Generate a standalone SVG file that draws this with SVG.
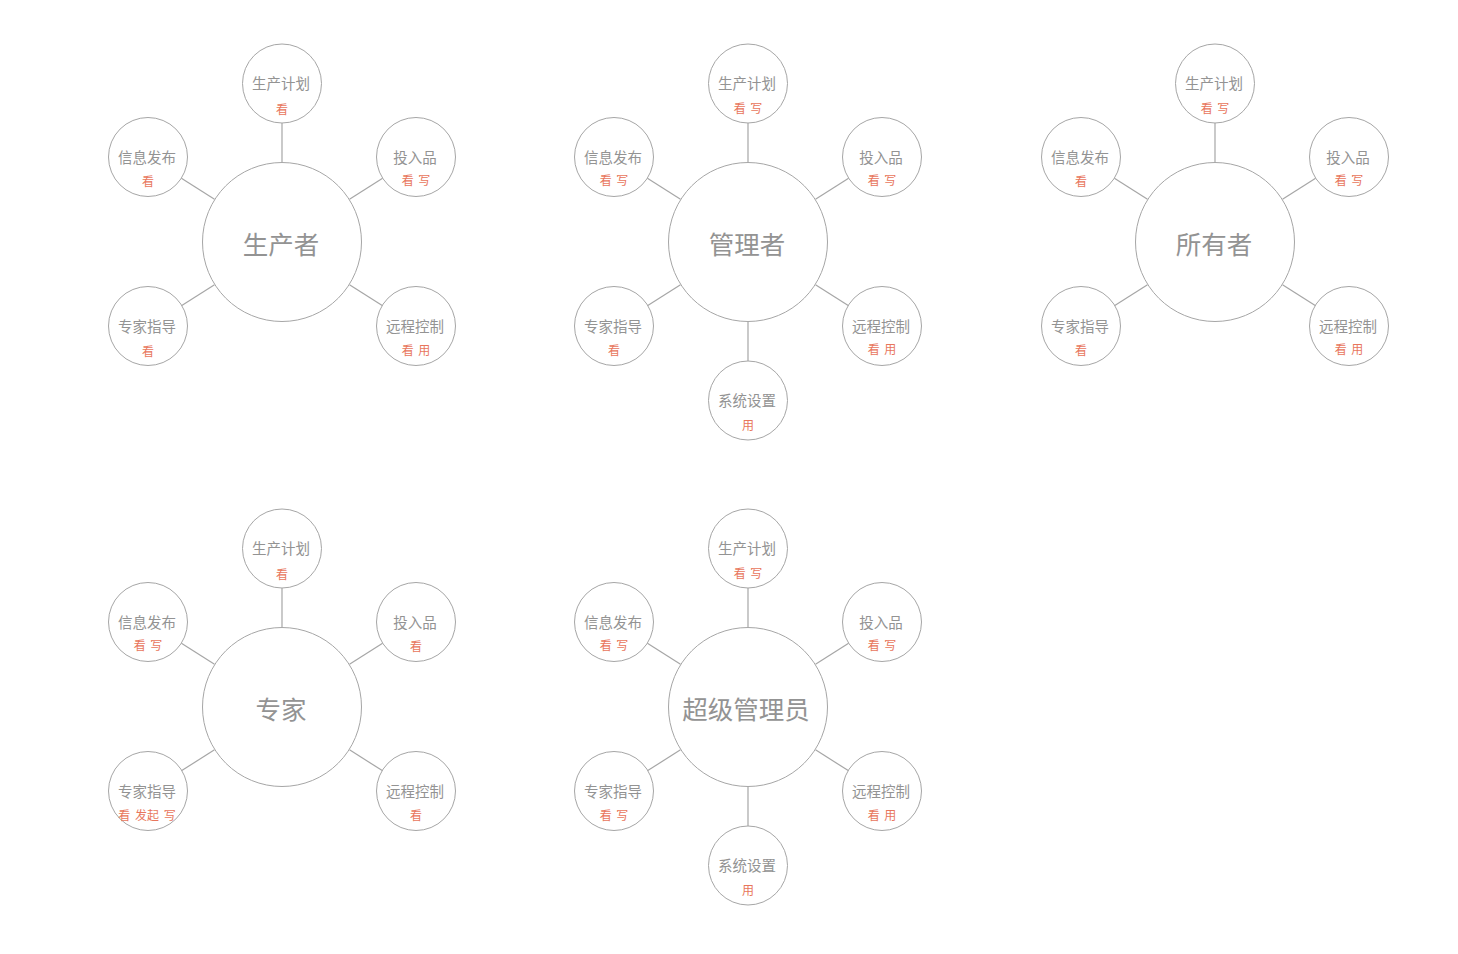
<svg xmlns="http://www.w3.org/2000/svg" width="1458" height="954" viewBox="0 0 1458 954">
<style>
.hub{fill:#fff;stroke:#a6a6a6;stroke-width:1}
.sat{fill:#fff;stroke:#a6a6a6;stroke-width:1}
.ln{stroke:#a6a6a6;stroke-width:1.2;fill:none}
.big{font-family:"Noto Sans CJK SC","Noto Sans",sans-serif;font-size:25.5px;fill:#939393;text-anchor:middle;dominant-baseline:central}
.nm{font-family:"Noto Sans CJK SC","Noto Sans",sans-serif;font-size:14.5px;fill:#939393;text-anchor:middle;dominant-baseline:central}
.pm{font-family:"Noto Sans CJK SC","Noto Sans",sans-serif;font-size:12px;fill:#e8765c;text-anchor:middle;dominant-baseline:central;word-spacing:2px}
</style>
<rect width="1458" height="954" fill="#fff"/>
<g id="connectors">
<line class="ln" x1="282" y1="162" x2="282" y2="123"/>
<line class="ln" x1="214.5" y1="199.2" x2="181.4" y2="178.2"/>
<line class="ln" x1="349.5" y1="199.2" x2="382.6" y2="178.2"/>
<line class="ln" x1="214.5" y1="284.8" x2="181.4" y2="305.8"/>
<line class="ln" x1="349.5" y1="284.8" x2="382.6" y2="305.8"/>
<line class="ln" x1="748" y1="162" x2="748" y2="123"/>
<line class="ln" x1="680.5" y1="199.2" x2="647.4" y2="178.2"/>
<line class="ln" x1="815.5" y1="199.2" x2="848.6" y2="178.2"/>
<line class="ln" x1="680.5" y1="284.8" x2="647.4" y2="305.8"/>
<line class="ln" x1="815.5" y1="284.8" x2="848.6" y2="305.8"/>
<line class="ln" x1="748" y1="322" x2="748" y2="361"/>
<line class="ln" x1="1215" y1="162" x2="1215" y2="123"/>
<line class="ln" x1="1147.5" y1="199.2" x2="1114.4" y2="178.2"/>
<line class="ln" x1="1282.5" y1="199.2" x2="1315.6" y2="178.2"/>
<line class="ln" x1="1147.5" y1="284.8" x2="1114.4" y2="305.8"/>
<line class="ln" x1="1282.5" y1="284.8" x2="1315.6" y2="305.8"/>
<line class="ln" x1="282" y1="627" x2="282" y2="588"/>
<line class="ln" x1="214.5" y1="664.2" x2="181.4" y2="643.2"/>
<line class="ln" x1="349.5" y1="664.2" x2="382.6" y2="643.2"/>
<line class="ln" x1="214.5" y1="749.8" x2="181.4" y2="770.8"/>
<line class="ln" x1="349.5" y1="749.8" x2="382.6" y2="770.8"/>
<line class="ln" x1="748" y1="627" x2="748" y2="588"/>
<line class="ln" x1="680.5" y1="664.2" x2="647.4" y2="643.2"/>
<line class="ln" x1="815.5" y1="664.2" x2="848.6" y2="643.2"/>
<line class="ln" x1="680.5" y1="749.8" x2="647.4" y2="770.8"/>
<line class="ln" x1="815.5" y1="749.8" x2="848.6" y2="770.8"/>
<line class="ln" x1="748" y1="787" x2="748" y2="826"/>
</g>

<g id="producer" transform="translate(282,242)"><circle class="hub" r="79.5"/><text class="big" x="-1" y="0">生产者</text></g>
<g id="producer-plan" transform="translate(282,83.5)"><circle class="sat" r="39.5"/><text class="nm" x="-1" y="-1">生产计划</text><text class="pm" y="24.5">看</text></g>
<g id="producer-info" transform="translate(148,157)"><circle class="sat" r="39.5"/><text class="nm" x="-1" y="-1">信息发布</text><text class="pm" y="23.5">看</text></g>
<g id="producer-input" transform="translate(416,157)"><circle class="sat" r="39.5"/><text class="nm" x="-1" y="-1">投入品</text><text class="pm" y="22.5">看 写</text></g>
<g id="producer-expert" transform="translate(148,326)"><circle class="sat" r="39.5"/><text class="nm" x="-1" y="-1">专家指导</text><text class="pm" y="24.5">看</text></g>
<g id="producer-remote" transform="translate(416,326)"><circle class="sat" r="39.5"/><text class="nm" x="-1" y="-1">远程控制</text><text class="pm" y="23.5">看 用</text></g>

<g id="manager" transform="translate(748,242)"><circle class="hub" r="79.5"/><text class="big" x="-1" y="0">管理者</text></g>
<g id="manager-plan" transform="translate(748,83.5)"><circle class="sat" r="39.5"/><text class="nm" x="-1" y="-1">生产计划</text><text class="pm" y="23.5">看 写</text></g>
<g id="manager-info" transform="translate(614,157)"><circle class="sat" r="39.5"/><text class="nm" x="-1" y="-1">信息发布</text><text class="pm" y="22.5">看 写</text></g>
<g id="manager-input" transform="translate(882,157)"><circle class="sat" r="39.5"/><text class="nm" x="-1" y="-1">投入品</text><text class="pm" y="22.5">看 写</text></g>
<g id="manager-expert" transform="translate(614,326)"><circle class="sat" r="39.5"/><text class="nm" x="-1" y="-1">专家指导</text><text class="pm" y="23.5">看</text></g>
<g id="manager-remote" transform="translate(882,326)"><circle class="sat" r="39.5"/><text class="nm" x="-1" y="-1">远程控制</text><text class="pm" y="22.5">看 用</text></g>
<g id="manager-settings" transform="translate(748,400.5)"><circle class="sat" r="39.5"/><text class="nm" x="-1" y="-1">系统设置</text><text class="pm" y="23.5">用</text></g>

<g id="owner" transform="translate(1215,242)"><circle class="hub" r="79.5"/><text class="big" x="-1" y="0">所有者</text></g>
<g id="owner-plan" transform="translate(1215,83.5)"><circle class="sat" r="39.5"/><text class="nm" x="-1" y="-1">生产计划</text><text class="pm" y="23.5">看 写</text></g>
<g id="owner-info" transform="translate(1081,157)"><circle class="sat" r="39.5"/><text class="nm" x="-1" y="-1">信息发布</text><text class="pm" y="23.5">看</text></g>
<g id="owner-input" transform="translate(1349,157)"><circle class="sat" r="39.5"/><text class="nm" x="-1" y="-1">投入品</text><text class="pm" y="22.5">看 写</text></g>
<g id="owner-expert" transform="translate(1081,326)"><circle class="sat" r="39.5"/><text class="nm" x="-1" y="-1">专家指导</text><text class="pm" y="23.5">看</text></g>
<g id="owner-remote" transform="translate(1349,326)"><circle class="sat" r="39.5"/><text class="nm" x="-1" y="-1">远程控制</text><text class="pm" y="22.5">看 用</text></g>

<g id="expert" transform="translate(282,707)"><circle class="hub" r="79.5"/><text class="big" x="-1" y="0">专家</text></g>
<g id="expert-plan" transform="translate(282,548.5)"><circle class="sat" r="39.5"/><text class="nm" x="-1" y="-1">生产计划</text><text class="pm" y="24.5">看</text></g>
<g id="expert-info" transform="translate(148,622)"><circle class="sat" r="39.5"/><text class="nm" x="-1" y="-1">信息发布</text><text class="pm" y="22.5">看 写</text></g>
<g id="expert-input" transform="translate(416,622)"><circle class="sat" r="39.5"/><text class="nm" x="-1" y="-1">投入品</text><text class="pm" y="23.5">看</text></g>
<g id="expert-expert" transform="translate(148,791)"><circle class="sat" r="39.5"/><text class="nm" x="-1" y="-1">专家指导</text><text class="pm" x="-1" y="23.5">看 发起 写</text></g>
<g id="expert-remote" transform="translate(416,791)"><circle class="sat" r="39.5"/><text class="nm" x="-1" y="-1">远程控制</text><text class="pm" y="23.5">看</text></g>

<g id="superadmin" transform="translate(748,707)"><circle class="hub" r="79.5"/><text class="big" x="-2" y="0">超级管理员</text></g>
<g id="superadmin-plan" transform="translate(748,548.5)"><circle class="sat" r="39.5"/><text class="nm" x="-1" y="-1">生产计划</text><text class="pm" y="23.5">看 写</text></g>
<g id="superadmin-info" transform="translate(614,622)"><circle class="sat" r="39.5"/><text class="nm" x="-1" y="-1">信息发布</text><text class="pm" y="22.5">看 写</text></g>
<g id="superadmin-input" transform="translate(882,622)"><circle class="sat" r="39.5"/><text class="nm" x="-1" y="-1">投入品</text><text class="pm" y="22.5">看 写</text></g>
<g id="superadmin-expert" transform="translate(614,791)"><circle class="sat" r="39.5"/><text class="nm" x="-1" y="-1">专家指导</text><text class="pm" y="23.5">看 写</text></g>
<g id="superadmin-remote" transform="translate(882,791)"><circle class="sat" r="39.5"/><text class="nm" x="-1" y="-1">远程控制</text><text class="pm" y="23.5">看 用</text></g>
<g id="superadmin-settings" transform="translate(748,865.5)"><circle class="sat" r="39.5"/><text class="nm" x="-1" y="-1">系统设置</text><text class="pm" y="23.5">用</text></g>
</svg>
